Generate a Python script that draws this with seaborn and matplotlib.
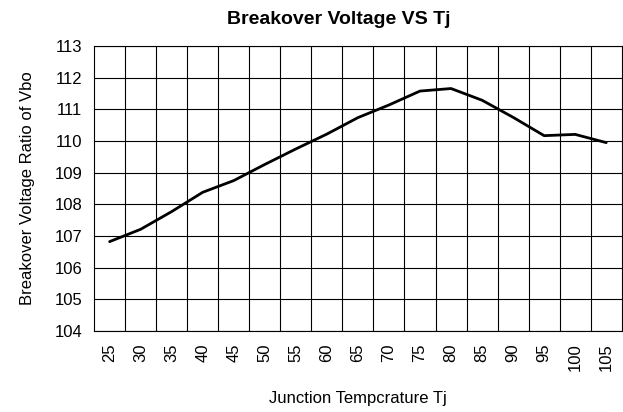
import numpy as np
import pandas as pd
import matplotlib
matplotlib.use("Agg")
import matplotlib.pyplot as plt
import seaborn as sns

# junction temperature (degC) and breakover voltage ratio
tj = [25, 30, 35, 40, 45, 50, 55, 60, 65, 70, 75, 80, 85, 90, 95, 100, 105]
vbo_ratio = [106.82, 107.21, 107.77, 108.38, 108.75, 109.26, 109.75, 110.22,
             110.74, 111.14, 111.58, 111.66, 111.29, 110.75, 110.17, 110.21, 109.95]
y_ticks = list(range(104, 114))

df = pd.DataFrame({"Tj": tj, "Vbo": vbo_ratio})

sns.set_style("white")
plt.rcParams['font.family'] = ['Liberation Sans', 'DejaVu Sans']
plt.rcParams['text.color'] = 'black'
plt.rcParams['axes.labelcolor'] = 'black'
plt.rcParams['xtick.color'] = 'black'
plt.rcParams['ytick.color'] = 'black'

fig = plt.figure(figsize=(6.23, 4.12), dpi=100)
ax = fig.add_axes([0.151, 0.197, 0.847, 0.691])

sns.lineplot(data=df, x="Tj", y="Vbo", color="black", linewidth=2, ax=ax)

# category-style grid: vertical lines between the points
ax.set_xlim(tj[0] - 2.5, tj[-1] + 2.5)
ax.set_xticks(tj)
ax.set_xticklabels([str(t) for t in tj], rotation=90, fontsize=12)
ax.set_xticks([t + 2.5 for t in tj[:-1]], minor=True)
ax.grid(True, which="minor", axis="x", color="black", linewidth=0.8)
ax.tick_params(axis="x", which="both", length=0, pad=9)

ax.set_ylim(y_ticks[0], y_ticks[-1])
ax.set_yticks(y_ticks)
ax.set_yticklabels([str(v) for v in y_ticks], fontsize=12)
ax.grid(True, which="major", axis="y", color="black", linewidth=0.8)
ax.tick_params(axis="y", length=4.5, color="black", pad=4)

for s in ax.spines.values():
    s.set_color("black")
    s.set_linewidth(0.8)

ax.set_title("Breakover Voltage VS Tj", fontsize=14, fontweight="bold", pad=16, x=0.464)
ax.set_xlabel("Junction Tempcrature Tj", fontsize=12, labelpad=14)
ax.set_ylabel("Breakover Voltage Ratio of Vbo", fontsize=12, labelpad=14)

fig.savefig("out.png", dpi=100)
